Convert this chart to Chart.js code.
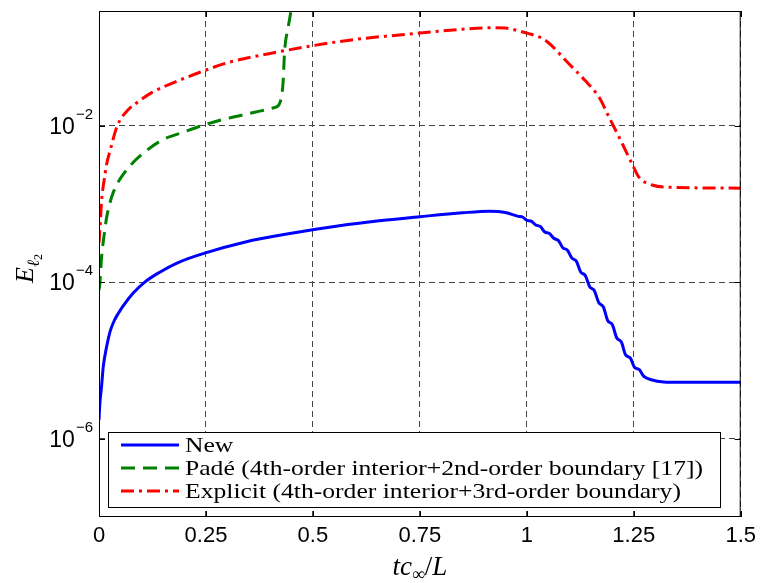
<!DOCTYPE html>
<html>
<head>
<meta charset="utf-8">
<script src="https://cdn.jsdelivr.net/npm/chart.js@4.4.0/dist/chart.umd.min.js"></script>
<style>
  html, body { margin: 0; padding: 0; background: #fff; }
</style>
</head>
<body>
<canvas id="errChart" width="762" height="583"></canvas>
<script>
// values, stored as log10(E)
const seriesNames = ['New', 'Padé (4th-order interior+2nd-order boundary [17])', 'Explicit (4th-order interior+3rd-order boundary)'];

const tNew = [0, 0.002, 0.006, 0.010, 0.018, 0.026, 0.035, 0.045, 0.057, 0.08, 0.107,
  0.14, 0.185, 0.247, 0.34, 0.457, 0.562, 0.65, 0.75, 0.85, 0.912,
  0.95, 0.98, 0.991, 1.0, 1.011, 1.021, 1.032, 1.042, 1.053, 1.063,
  1.074, 1.084, 1.095, 1.105, 1.116, 1.126, 1.137, 1.147, 1.158, 1.168,
  1.179, 1.189, 1.2, 1.21, 1.221, 1.231, 1.242, 1.252, 1.263, 1.273,
  1.293, 1.32, 1.355, 1.5];
const logNew = [-5.76, -5.55, -5.33, -5.08, -4.82, -4.63, -4.5, -4.40, -4.30, -4.14, -4.0,
  -3.88, -3.75, -3.63, -3.49, -3.37, -3.28, -3.22, -3.165, -3.115, -3.095,
  -3.11, -3.16, -3.172, -3.21, -3.225, -3.27, -3.292, -3.36, -3.38, -3.44,
  -3.47, -3.56, -3.593, -3.69, -3.735, -3.87, -3.918, -4.06, -4.11, -4.26,
  -4.318, -4.49, -4.545, -4.71, -4.765, -4.93, -4.97, -5.09, -5.118, -5.20,
  -5.25, -5.275, -5.28, -5.28];

const tPade = [0, 0.002, 0.006, 0.012, 0.018, 0.026, 0.033, 0.045, 0.057, 0.075,
  0.1, 0.146, 0.2, 0.247, 0.3, 0.364, 0.41, 0.422, 0.43, 0.434,
  0.442, 0.449, 0.46];
const logPade = [-4.1, -4.02, -3.68, -3.4, -3.17, -2.98, -2.86, -2.72, -2.62, -2.5,
  -2.37, -2.19, -2.08, -1.99, -1.91, -1.83, -1.77, -1.72, -1.47, -1.04,
  -0.75, -0.53, -0.1];

const tExpl = [0, 0.003, 0.006, 0.012, 0.018, 0.026, 0.043, 0.068, 0.096, 0.123,
  0.18, 0.236, 0.306, 0.4, 0.5, 0.6, 0.75, 0.85, 0.92, 0.95,
  0.98, 1.0, 1.037, 1.06, 1.091, 1.137, 1.169, 1.192, 1.223, 1.246,
  1.262, 1.293, 1.34, 1.5];
const logExpl = [-3.5, -3.25, -2.96, -2.7, -2.49, -2.32, -2.0, -1.8, -1.68, -1.58,
  -1.44, -1.32, -1.19, -1.08, -0.98, -0.9, -0.82, -0.77, -0.75, -0.755,
  -0.79, -0.82, -0.89, -0.99, -1.17, -1.43, -1.64, -1.89, -2.23, -2.49,
  -2.66, -2.76, -2.79, -2.80];

const yTickValues = [1e-6, 1e-4, 1e-2];
const yTickExp = ['\u22126', '\u22124', '\u22122'];
const xTickValues = [0, 0.25, 0.5, 0.75, 1, 1.25, 1.5];
const xTickLabels = ['0', '0.25', '0.5', '0.75', '1', '1.25', '1.5'];

const colors = ['#0000ff', '#008000', '#ff0000'];
const dashes = [[], [14, 8], [13, 5, 3, 5]];

function toPoints(ts, logs) {
  return ts.map((t, i) => ({ x: t, y: Math.pow(10, logs[i]) }));
}

const sansFont = '"Liberation Sans", Arial, sans-serif';
const serifFont = '"Liberation Serif", "Times New Roman", serif';

const framePlugin = {
  id: 'frame',
  afterDraw(chart) {
    const { ctx, chartArea: a, scales } = chart;
    ctx.save();
    ctx.strokeStyle = '#000';
    ctx.lineWidth = 1;
    ctx.setLineDash([]);
    ctx.strokeRect(a.left + 0.5, a.top + 0.5, a.right - a.left - 1, a.bottom - a.top - 1);

    // inward tick marks
    ctx.beginPath();
    xTickValues.forEach(v => {
      const x = Math.round(scales.x.getPixelForValue(v)) + 0.5;
      ctx.moveTo(x, a.bottom); ctx.lineTo(x, a.bottom - 6);
      ctx.moveTo(x, a.top); ctx.lineTo(x, a.top + 6);
    });
    yTickValues.forEach(v => {
      const y = Math.round(scales.y.getPixelForValue(v)) + 0.5;
      ctx.moveTo(a.left, y); ctx.lineTo(a.left + 6, y);
      ctx.moveTo(a.right, y); ctx.lineTo(a.right - 6, y);
    });
    ctx.stroke();

    // y tick labels 10^-n
    ctx.fillStyle = '#000';
    ctx.textAlign = 'right';
    ctx.textBaseline = 'alphabetic';
    yTickValues.forEach((v, i) => {
      const y = scales.y.getPixelForValue(v);
      const right = a.left - 6;
      ctx.font = '15px ' + sansFont;
      const w = ctx.measureText(yTickExp[i]).width;
      ctx.fillText(yTickExp[i], right, y - 7);
      ctx.font = '23px ' + sansFont;
      ctx.fillText('10', right - w - 1, y + 8);
    });

    // y axis title
    ctx.save();
    ctx.translate(33, 283);
    ctx.rotate(-Math.PI / 2);
    ctx.textAlign = 'left';
    ctx.font = 'italic 26px ' + serifFont;
    ctx.fillText('E', 0, 0);
    let ex = ctx.measureText('E').width;
    ctx.font = 'italic 17px ' + serifFont;
    ctx.fillText('\u2113', ex, 6);
    ex += ctx.measureText('\u2113').width;
    ctx.font = '12px ' + serifFont;
    ctx.fillText('2', ex, 9);
    ctx.restore();

    // x axis title
    const parts = [
      { s: 't', f: 'italic 27px ', dy: 0 },
      { s: 'c', f: 'italic 27px ', dy: 0 },
      { s: '\u221e', f: '18px ', dy: 5 },
      { s: '/', f: '27px ', dy: 0 },
      { s: 'L', f: 'italic 27px ', dy: 0 }
    ];
    let total = 0;
    parts.forEach(p => { ctx.font = p.f + serifFont; p.w = ctx.measureText(p.s).width; total += p.w; });
    let px = (a.left + a.right) / 2 - total / 2;
    ctx.textAlign = 'left';
    parts.forEach(p => {
      ctx.font = p.f + serifFont;
      ctx.fillText(p.s, px, 575 + p.dy);
      px += p.w;
    });

    // legend box
    const lx = 108, ly = 432, lw = 612, lh = 75;
    ctx.fillStyle = '#fff';
    ctx.fillRect(lx, ly, lw, lh);
    ctx.strokeStyle = '#000';
    ctx.lineWidth = 1;
    ctx.strokeRect(lx + 0.5, ly + 0.5, lw, lh);
    ctx.font = '21px ' + serifFont;
    ctx.textBaseline = 'middle';
    // the original legend font is wider than Liberation Serif: stretch to its width
    const stretch = 518 / ctx.measureText(seriesNames[1]).width;
    seriesNames.forEach((name, i) => {
      const ry = ly + 13 + i * 23;
      ctx.strokeStyle = colors[i];
      ctx.lineWidth = 3;
      ctx.setLineDash(dashes[i]);
      ctx.beginPath();
      ctx.moveTo(121, ry);
      ctx.lineTo(179, ry);
      ctx.stroke();
      ctx.setLineDash([]);
      ctx.fillStyle = '#000';
      ctx.save();
      ctx.translate(185, ry + 1);
      ctx.scale(stretch, 1);
      ctx.fillText(name, 0, 0);
      ctx.restore();
    });
    ctx.restore();
  }
};

window.addEventListener('load', () => {
  const ctx = document.getElementById('errChart').getContext('2d');
  new Chart(ctx, {
    type: 'line',
    data: {
      datasets: [
        { label: seriesNames[0], data: toPoints(tNew, logNew) },
        { label: seriesNames[1], data: toPoints(tPade, logPade) },
        { label: seriesNames[2], data: toPoints(tExpl, logExpl) }
      ].map((d, i) => Object.assign(d, {
        borderColor: colors[i],
        borderWidth: 3,
        borderDash: dashes[i],
        pointRadius: 0,
        fill: false,
        cubicInterpolationMode: 'monotone'
      }))
    },
    options: {
      responsive: false,
      animation: false,
      layout: { padding: { top: 11, right: 20, left: 0, bottom: 0 } },
      plugins: { legend: { display: false }, tooltip: { enabled: false } },
      scales: {
        x: {
          type: 'linear',
          min: 0,
          max: 1.5,
          afterFit: s => { s.height = 66; },
          afterBuildTicks: s => { s.ticks = xTickValues.map(v => ({ value: v })); },
          ticks: {
            color: '#000',
            font: { family: sansFont, size: 22 },
            padding: 6,
            maxRotation: 0,
            autoSkip: false,
            callback: (v, i) => xTickLabels[i]
          },
          grid: {
            color: '#444',
            lineWidth: 1,
            drawTicks: false
          },
          border: { display: false, dash: [6, 4] }
        },
        y: {
          type: 'logarithmic',
          min: 1e-7,
          max: 0.29,
          bounds: 'data',
          afterFit: s => { s.width = 99; },
          afterBuildTicks: s => { s.ticks = yTickValues.map(v => ({ value: v })); },
          ticks: { display: false },
          grid: {
            color: '#444',
            lineWidth: 1,
            drawTicks: false
          },
          border: { display: false, dash: [6, 4] }
        }
      }
    },
    plugins: [framePlugin]
  });
});
</script>
</body>
</html>
